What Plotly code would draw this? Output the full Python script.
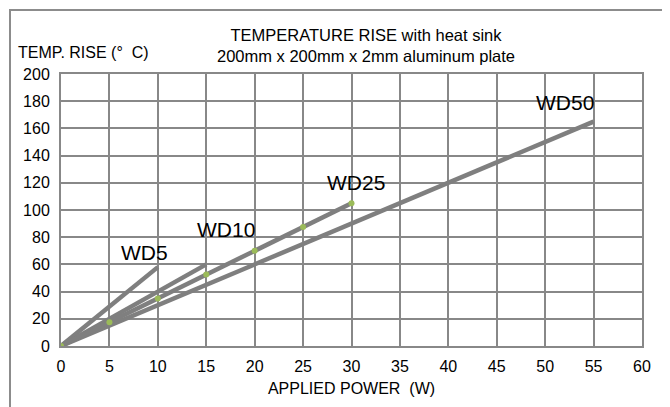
import plotly.graph_objects as go

# Data
wd5_x = [0, 5, 10]
wd5_y = [0, 29, 58]
wd10_x = [0, 5, 10, 15]
wd10_y = [0, 20, 40, 60]
wd25_x = [0, 5, 10, 15, 20, 25, 30]
wd25_y = [0, 17.5, 35, 52.5, 70, 87.5, 105]
wd50_x = [0, 5, 10, 15, 20, 25, 30, 35, 40, 45, 50, 55]
wd50_y = [0, 15, 30, 45, 60, 75, 90, 105, 120, 135, 150, 165]

labels = ["WD5", "WD10", "WD25", "WD50"]
label_x = [8.6, 17.0, 30.5, 52.0]
label_y = [69, 86, 120, 179]

x_ticks = list(range(0, 61, 5))
y_ticks = list(range(0, 201, 20))

LINE = "#7f7f7f"
GRID = "#888888"
FONT = "Liberation Sans, Arial, sans-serif"

# page body has an 8px margin; plot area target in the viewport: x 61..642, y 74..346
OFF = 8
PL, PR, PT, PB = 61, 642, 74, 346
PW, PH = PR - PL, PB - PT


def px(xp):
    return (xp - PL) / PW


def py(yp):
    return (PB - yp) / PH


fig = go.Figure()
for xs, ys, name in [(wd5_x, wd5_y, "WD5"), (wd10_x, wd10_y, "WD10"), (wd50_x, wd50_y, "WD50")]:
    fig.add_trace(go.Scatter(x=xs, y=ys, mode="lines", name=name,
                             line=dict(color=LINE, width=4.5)))
fig.add_trace(go.Scatter(x=wd25_x, y=wd25_y, mode="lines+markers", name="WD25",
                         line=dict(color=LINE, width=4.5),
                         marker=dict(color="#9bbb59", size=6)))

for t, lx, ly in zip(labels, label_x, label_y):
    fig.add_annotation(x=lx, y=ly, text=t, showarrow=False,
                       font=dict(size=21, color="#000", family=FONT))

fig.add_annotation(xref="paper", yref="paper", x=px(16), y=py(52.5),
                   xanchor="left", yanchor="middle", showarrow=False,
                   text="TEMP. RISE (°  C)", font=dict(size=16, color="#000", family=FONT))
fig.add_annotation(xref="paper", yref="paper", x=px(366), y=py(46),
                   xanchor="center", yanchor="middle", showarrow=False,
                   text="TEMPERATURE RISE with heat sink<br>200mm x 200mm x 2mm aluminum plate",
                   font=dict(size=16.5, color="#000", family=FONT))

# outer border
fig.add_shape(type="rect", xref="paper", yref="paper",
              x0=px(10), x1=px(666), y0=py(430), y1=py(10),
              line=dict(color="#8c8c8c", width=2), layer="below")

fig.update_layout(
    width=670, height=407,
    margin=dict(l=PL - OFF, r=670 - PW - (PL - OFF), t=PT - OFF, b=407 - PH - (PT - OFF)),
    paper_bgcolor="white", plot_bgcolor="white",
    showlegend=False,
    font=dict(family=FONT, color="#000"),
    xaxis=dict(range=[0, 60], tickvals=x_ticks, showgrid=True, gridcolor=GRID, gridwidth=2,
               showline=True, linecolor=GRID, linewidth=2, mirror=True, zeroline=False,
               ticks="", tickfont=dict(size=16), ticklabelstandoff=5, automargin=False,
               title=dict(text="APPLIED POWER  (W)", font=dict(size=16), standoff=9)),
    yaxis=dict(range=[0, 200], tickvals=y_ticks, showgrid=True, gridcolor=GRID, gridwidth=2,
               showline=True, linecolor=GRID, linewidth=2, mirror=True, zeroline=False,
               ticks="", tickfont=dict(size=16), ticklabelstandoff=6, automargin=False),
)

fig.write_html("out.html")
